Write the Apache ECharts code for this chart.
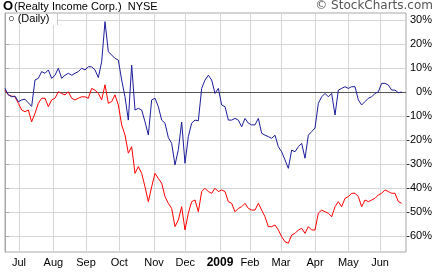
<!DOCTYPE html>
<html><head><meta charset="utf-8">
<script src="https://cdn.jsdelivr.net/npm/echarts@6/dist/echarts.min.js"></script>
<style>html,body{margin:0;padding:0;background:#fff}#c{width:438px;height:272px}</style>
</head><body><div id="c"></div>
<script>
// x unit: sample index (one sample ~ every 2 trading days), Jun 2008 - Jun 2009
const monthLabels = ['Jul','Aug','Sep','Oct','Nov','Dec','2009','Feb','Mar','Apr','May','Jun'];
const monthStarts = [4.2,14.5,24.3,34.3,44.7,54.1,64.5,73.5,82.8,93,103,112.5];
const yTicks = [-60,-50,-40,-30,-20,-10,0,10,20,30];
// O (Realty Income Corp.) % change
const oValues = [1.5,-1.2,-2,-1.7,-4,-3.3,-3,-4.5,-6,5,
5.7,8.5,7.8,9.2,5.7,7,9.9,5.7,7,7.8,
7,7.8,8.5,9.9,9.2,10.5,10.5,9.2,6,12.6,
29.3,16.8,15.4,14,13.3,5,-2,-11.7,11.2,-7.5,
-6.8,-7.5,-12.4,-17.9,-3.3,-2.6,-6.1,-11.7,-13,-19,
-21.4,-30.4,-24,-12.5,-29.7,-18.6,-13,-11.7,-12,1.5,
5,7,5,-0.6,1.5,-5.4,-6.1,-11.7,-11.7,-11,
-11.7,-14.5,-11,-13,-13.7,-13.7,-11,-17.2,-18,-18.6,
-19.3,-18,-22.8,-24.9,-28.3,-31.8,-24.2,-24.9,-22.8,-21.4,
-27.6,-18,-16.5,-15,-4.7,-2,-0.6,-2,-0.6,-9.6,
0.8,1.5,2.2,1.5,2.2,2.2,-3.3,-5.4,-4,-2.6,
-2,-0.6,0.1,3.6,3.6,2.9,0.8,0.8,-0.3,0];
// comparison series % change
const compValues = [0.8,-1.2,-1.7,-2,-4.7,-7.5,-8.2,-7.5,-12.4,-8.9,
-4.7,-2.6,-2.6,-6.1,-3.3,-2.6,0.1,-0.6,-1.2,0.1,
-2.6,-3.3,-2.6,-2,-2,-2.6,1.5,0.8,-0.6,-3.3,
3,-4.7,-4,-1.2,-5.4,-13.7,-17.9,-25.5,-22.8,-33.9,
-31.1,-33.9,-39.5,-45.7,-39.5,-33.9,-36,-38,-43.6,-46.4,
-48.5,-56.1,-53.3,-47.8,-57.5,-50.5,-45.7,-45,-49.9,-41.5,
-40.1,-41.5,-42.2,-40.1,-41.5,-40.8,-41.5,-45.7,-46.4,-49.9,
-48.5,-47.8,-46.4,-48.5,-49.2,-49.2,-46.4,-49.2,-52,-56.1,
-56.1,-55.4,-57.5,-60.3,-62.4,-63,-59.6,-58.9,-57.5,-56.8,
-58.9,-56.1,-57.5,-57.5,-50.5,-49.2,-49.9,-50.5,-52,-47.8,
-45.7,-47.8,-44.3,-43.6,-42.2,-42.2,-43.6,-47.8,-45,-45.7,
-45,-44.3,-42.9,-42.2,-40.8,-41.5,-42.2,-42.2,-45.7,-46.4];

const FONT = '"Liberation Sans", Arial, sans-serif';
const chart = echarts.init(document.getElementById('c'), null, {renderer: 'canvas'});
chart.setOption({
  animation: false,
  backgroundColor: '#fff',
  grid: {left: 5, top: 13, right: 32, bottom: 20, show: true, borderColor: '#a8a8a8', borderWidth: 1, containLabel: false},
  xAxis: {
    type: 'value', min: 0, max: 120.3,
    axisLine: {show: false}, axisTick: {show: false, customValues: monthStarts},
    axisLabel: {
      customValues: monthStarts, margin: 5, color: '#000', fontFamily: FONT, fontSize: 11,
      formatter: v => { const i = monthStarts.indexOf(v); const s = i >= 0 ? monthLabels[i] : ''; return s === '2009' ? '{b|2009}' : s; },
      rich: {b: {fontWeight: 'bold', fontFamily: FONT, fontSize: 12, color: '#000'}}
    },
    splitLine: {show: true, lineStyle: {color: '#d6d6d6', width: 1}}
  },
  yAxis: {
    type: 'value', position: 'right', min: -66.67, max: 32.92,
    axisLine: {show: true, lineStyle: {color: '#a8a8a8'}},
    axisTick: {show: true, customValues: yTicks, length: 4, lineStyle: {color: '#a8a8a8'}},
    axisLabel: {customValues: yTicks, margin: 26, align: 'right', color: '#000', fontFamily: FONT, fontSize: 11, formatter: v => Math.round(v) + '%'},
    splitLine: {show: true, lineStyle: {color: '#d6d6d6', width: 1}}
  },
  series: [
    {name: 'Compare', type: 'line', data: compValues.map((v, i) => [i, v]), showSymbol: false, symbol: 'none',
     lineStyle: {color: '#ff0000', width: 1}, z: 3},
    {name: 'O', type: 'line', data: oValues.map((v, i) => [i, v]), showSymbol: false, symbol: 'none',
     lineStyle: {color: '#1c1c9c', width: 1}, z: 4,
     markLine: {silent: true, symbol: 'none', label: {show: false}, lineStyle: {color: '#555', width: 1, type: 'solid'}, data: [{yAxis: 0}], z: 2}}
  ],
  graphic: [
    {type: 'rect', shape: {x: 6, y: 14, width: 51, height: 11}, style: {fill: '#fff'}, z: 100},
    {type: 'line', shape: {x1: 57.5, y1: 13, x2: 57.5, y2: 25}, style: {stroke: '#c8c8c8', lineWidth: 1}, z: 100},
    {type: 'text', left: 8, top: 13, style: {text: '○ (Daily)', font: '11px ' + FONT, fill: '#000'}, z: 101},
    {type: 'text', left: 3, top: 0, style: {text: 'O', font: 'bold 13px ' + FONT, fill: '#000'}, z: 101},
    {type: 'text', left: 14, top: 1, style: {text: '(Realty Income Corp.)  NYSE', font: '11px ' + FONT, fill: '#000'}, z: 101},
    {type: 'text', right: 5, top: 0, style: {text: '© StockCharts.com', font: '12px "DejaVu Sans", sans-serif', fill: '#555'}, z: 101}
  ]
});
</script></body></html>
